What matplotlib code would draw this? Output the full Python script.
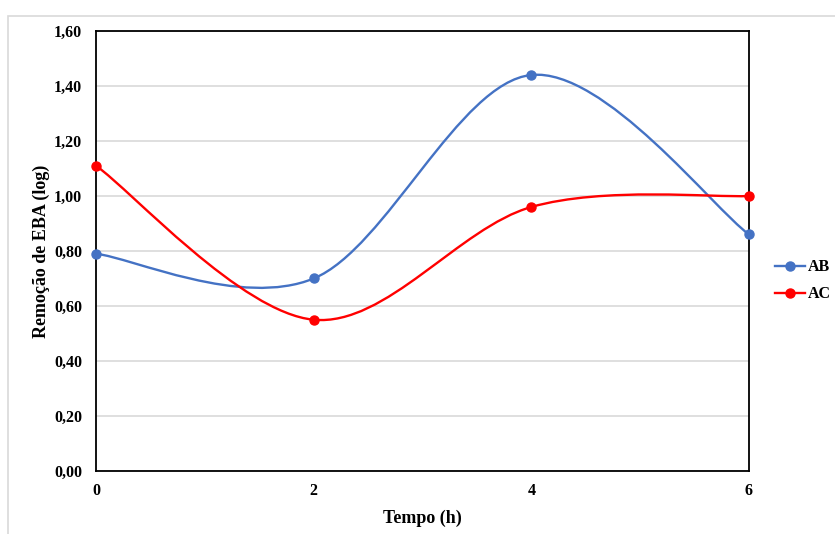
import numpy as np
import matplotlib.pyplot as plt
from matplotlib.path import Path
from matplotlib.patches import PathPatch, Rectangle
from matplotlib.lines import Line2D

plt.rcParams['font.family'] = ['Liberation Serif', 'DejaVu Serif']
plt.rcParams['font.weight'] = 'bold'

tempo = [0, 2, 4, 6]
ab = [0.79, 0.70, 1.44, 0.86]
ac = [1.11, 0.55, 0.96, 1.00]
series = [("AB", ab, "#4472C4"), ("AC", ac, "#FF0000")]
yticks = [0.0, 0.2, 0.4, 0.6, 0.8, 1.0, 1.2, 1.4, 1.6]


def smooth_path(x, y):
    # Excel-like smoothed line: cubic Bezier segments (Catmull-Rom tangents)
    p = np.column_stack([x, y]).astype(float)
    ext = np.vstack([p[0], p, p[-1]])
    verts = [p[0]]
    codes = [Path.MOVETO]
    for i in range(len(p) - 1):
        p0, p1, p2, p3 = ext[i], ext[i + 1], ext[i + 2], ext[i + 3]
        c1 = p1 + (p2 - p0) / 6
        c2 = p2 - (p3 - p1) / 6
        verts += [c1, c2, p2]
        codes += [Path.CURVE4] * 3
    return Path(verts, codes)


fig = plt.figure(figsize=(8.35, 5.34), dpi=100)
fig.patches.append(Rectangle((0.009, -0.05), 1.2, 1.02, transform=fig.transFigure,
                             fill=False, edgecolor="#D9D9D9", linewidth=1.2))
ax = fig.add_axes([0.115, 0.118, 0.782, 0.824])

for name, vals, col in series:
    ax.add_patch(PathPatch(smooth_path(tempo, vals), fill=False, edgecolor=col,
                           linewidth=1.7, zorder=3, capstyle="round"))
    ax.plot(tempo, vals, "o", color=col, markersize=6.5, zorder=4, clip_on=False)

ax.set_xlim(0, 6)
ax.set_ylim(0, 1.6)
ax.set_xticks(tempo)
ax.set_yticks(yticks)
ax.set_yticklabels([f"{v:.2f}".replace(".", ",") for v in yticks])
ax.tick_params(length=0, labelsize=11.5, pad=10)
ax.tick_params(axis="x", pad=9)
ax.grid(axis="y", color="#D9D9D9", linewidth=1.2)
ax.set_axisbelow(True)
for s in ax.spines.values():
    s.set_color("black")
    s.set_linewidth(1.3)

ax.set_xlabel("Tempo (h)", fontsize=13, fontweight="bold", labelpad=7)
ax.set_ylabel("Remoção de EBA (log)", fontsize=13, fontweight="bold", labelpad=3)

handles = [Line2D([0], [0], color=c, marker="o", markersize=6.5, linewidth=1.7)
           for _, _, c in series]
fig.legend(handles, [n for n, _, _ in series], loc="center left",
           bbox_to_anchor=(0.928, 0.474), frameon=False, fontsize=11.5,
           handlelength=1.9, handletextpad=0.15, labelspacing=0.7,
           borderpad=0, borderaxespad=0)

fig.savefig("out.png", dpi=100)
